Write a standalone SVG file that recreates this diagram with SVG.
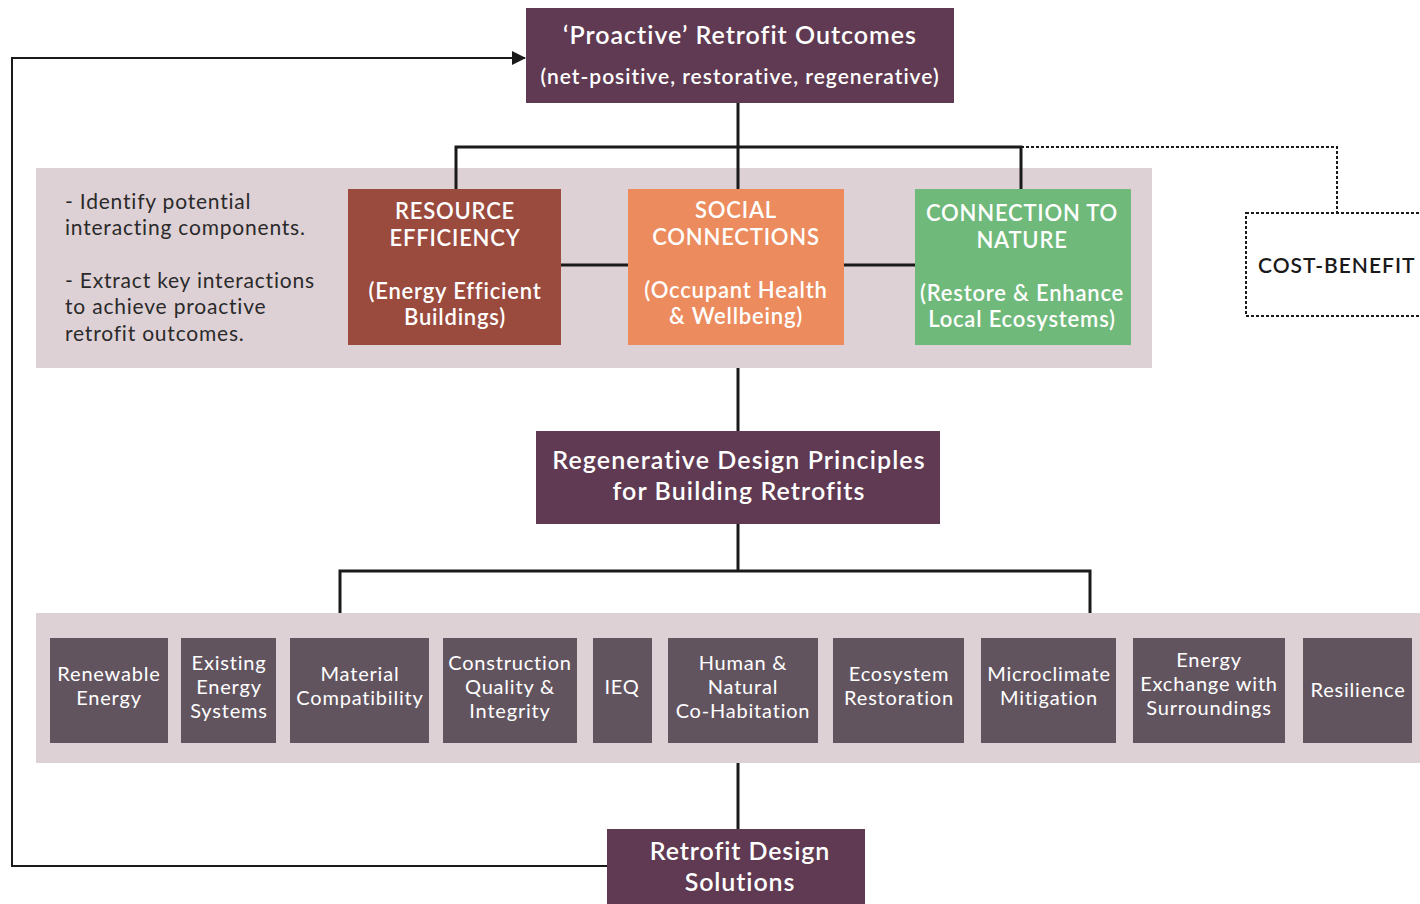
<svg xmlns="http://www.w3.org/2000/svg" width="1420" height="904" viewBox="0 0 1420 904">
<defs>
<style>
text{font-family:Lato,"Open Sans","Liberation Sans",sans-serif;text-anchor:middle;fill:#ffffff}
.plum{fill:#5f3a52}
.band{fill:#ded1d6}
.item{fill:#62545f}
.t24{font-size:25px;font-weight:600;letter-spacing:1px}
.t20{font-size:21px;font-weight:600;letter-spacing:1px}
.big{font-size:25px;font-weight:600;letter-spacing:1.1px}
.cap{font-size:22px;font-weight:600;letter-spacing:0.8px}
.it{font-size:20px;letter-spacing:0.8px}
.note{font-size:21px;fill:#2a2a2a;text-anchor:start;letter-spacing:0.8px}
.conn{stroke:#1a1a1a;stroke-width:3;fill:none}
.fb{stroke:#1a1a1a;stroke-width:2;fill:none}
.dot{stroke:#1a1a1a;stroke-width:2;fill:none;stroke-dasharray:3 2}
</style>
<marker id="arr" markerWidth="14" markerHeight="14" refX="13" refY="7" orient="auto" markerUnits="userSpaceOnUse">
<path d="M0,0 L14,7 L0,14 Z" fill="#1a1a1a"/>
</marker>
</defs>
<rect width="1420" height="904" fill="#ffffff"/>
<g id="bands">
<rect class="band" x="36" y="168" width="1116" height="200"/>
<rect class="band" x="36" y="613" width="1384" height="150"/>
</g>
<g id="connectors">
<path class="conn" d="M738,103 V147 M456,189 V147 H1021 V189 M738,147 V189"/>
<path class="dot" d="M1021,147 H1337 V213"/>
<path class="conn" d="M561,265 H628 M844,265 H915"/>
<path class="conn" d="M738,368 V431 M738,524 V571 M340,613 V571 H1090 V613"/>
<path class="conn" d="M738,763 V829"/>
<path class="fb" d="M607,866 H12 V58 H525" marker-end="url(#arr)"/>
</g>
<g id="outcomes">
<rect class="plum" x="526" y="8" width="428" height="95"/>
<text class="t24" x="740" y="44">‘Proactive’ Retrofit Outcomes</text>
<text class="t20" x="740" y="84">(net-positive, restorative, regenerative)</text>
</g>
<g id="notes">
<text class="note" x="65" y="209">- Identify potential</text>
<text class="note" x="65" y="235">interacting components.</text>
<text class="note" x="65" y="288">- Extract key interactions</text>
<text class="note" x="65" y="314">to achieve proactive</text>
<text class="note" x="65" y="341">retrofit outcomes.</text>
</g>
<g id="resource">
<rect x="348" y="189" width="213" height="156" fill="#9b4a3e"/>
<text class="cap" x="455" y="219">RESOURCE</text>
<text class="cap" x="455" y="246">EFFICIENCY</text>
<text class="cap" x="455" y="299">(Energy Efficient</text>
<text class="cap" x="455" y="325">Buildings)</text>
</g>
<g id="social">
<rect x="628" y="189" width="216" height="156" fill="#ec8c5e"/>
<text class="cap" x="736" y="218">SOCIAL</text>
<text class="cap" x="736" y="245">CONNECTIONS</text>
<text class="cap" x="736" y="298">(Occupant Health</text>
<text class="cap" x="736" y="324">&amp; Wellbeing)</text>
</g>
<g id="nature">
<rect x="915" y="189" width="216" height="156" fill="#6fb97b"/>
<text class="cap" x="1022" y="221">CONNECTION TO</text>
<text class="cap" x="1022" y="248">NATURE</text>
<text class="cap" x="1022" y="301">(Restore &amp; Enhance</text>
<text class="cap" x="1022" y="327">Local Ecosystems)</text>
</g>
<g id="costbenefit">
<rect class="dot" x="1246" y="213" width="190" height="103"/>
<text x="1258" y="273" style="font-size:21px;font-weight:600;fill:#1a1a1a;text-anchor:start;letter-spacing:1px">COST-BENEFIT</text>
</g>
<g id="principles">
<rect class="plum" x="536" y="431" width="404" height="93"/>
<text class="big" x="739" y="469">Regenerative Design Principles</text>
<text class="big" x="739" y="500">for Building Retrofits</text>
</g>
<g id="items">
<g id="renewable"><rect class="item" x="50" y="638" width="118" height="105"/><text class="it" x="109" y="681">Renewable</text><text class="it" x="109" y="705">Energy</text></g>
<g id="existing"><rect class="item" x="181" y="638" width="95" height="105"/><text class="it" x="229" y="670">Existing</text><text class="it" x="229" y="694">Energy</text><text class="it" x="229" y="718">Systems</text></g>
<g id="material"><rect class="item" x="290" y="638" width="139" height="105"/><text class="it" x="360" y="681">Material</text><text class="it" x="360" y="705">Compatibility</text></g>
<g id="construction"><rect class="item" x="443" y="638" width="134" height="105"/><text class="it" x="510" y="670">Construction</text><text class="it" x="510" y="694">Quality &amp;</text><text class="it" x="510" y="718">Integrity</text></g>
<g id="ieq"><rect class="item" x="593" y="638" width="59" height="105"/><text class="it" x="622" y="694">IEQ</text></g>
<g id="cohabitation"><rect class="item" x="668" y="638" width="150" height="105"/><text class="it" x="743" y="670">Human &amp;</text><text class="it" x="743" y="694">Natural</text><text class="it" x="743" y="718">Co-Habitation</text></g>
<g id="ecosystem"><rect class="item" x="833" y="638" width="131" height="105"/><text class="it" x="899" y="681">Ecosystem</text><text class="it" x="899" y="705">Restoration</text></g>
<g id="microclimate"><rect class="item" x="981" y="638" width="135" height="105"/><text class="it" x="1049" y="681">Microclimate</text><text class="it" x="1049" y="705">Mitigation</text></g>
<g id="exchange"><rect class="item" x="1133" y="638" width="152" height="105"/><text class="it" x="1209" y="667">Energy</text><text class="it" x="1209" y="691">Exchange with</text><text class="it" x="1209" y="715">Surroundings</text></g>
<g id="resilience"><rect class="item" x="1303" y="638" width="109" height="105"/><text class="it" x="1358" y="697">Resilience</text></g>
</g>
<g id="solutions">
<rect class="plum" x="607" y="829" width="258" height="80"/>
<text class="big" x="740" y="860" style="letter-spacing:0.9px">Retrofit Design</text>
<text class="big" x="740" y="891" style="letter-spacing:0.9px">Solutions</text>
</g>
</svg>
